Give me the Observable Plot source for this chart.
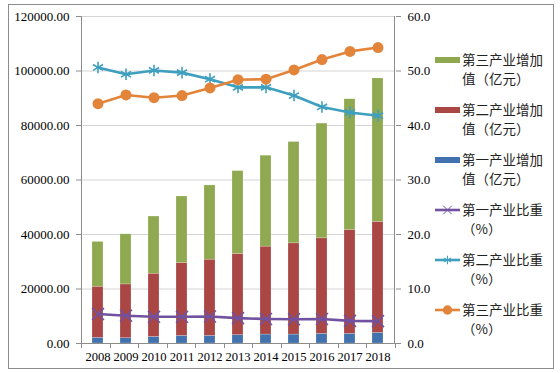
<!DOCTYPE html>
<html><head><meta charset="utf-8">
<script src="https://cdn.jsdelivr.net/npm/d3@7"></script>
<script src="https://cdn.jsdelivr.net/npm/@observablehq/plot@0.6"></script>
<style>
body{margin:0;background:#fff}
#wrap{position:relative;width:560px;height:373px;overflow:hidden}
#wrap svg{position:absolute;left:0;top:0}
#frame{position:absolute;left:8px;top:4px;width:546px;height:365px;border:1px solid #8c8c8c;box-sizing:border-box;pointer-events:none}
</style></head><body><div id="wrap"><div id="frame"></div></div>
<script>
const years = ["2008","2009","2010","2011","2012","2013","2014","2015","2016","2017","2018"];
const primaryValue   = [2060, 1950, 2430, 2800, 2800, 3050, 3280, 3280, 3530, 3530, 3900];
const secondaryValue = [18770, 19730, 23180, 26750, 27960, 29810, 32270, 33480, 35070, 38160, 40740];
const tertiaryValue  = [16450, 18390, 20980, 24400, 27240, 30400, 33370, 37170, 42100, 47950, 52620];
const primaryShare   = [5.4, 5.1, 4.9, 4.9, 4.95, 4.65, 4.5, 4.45, 4.5, 4.15, 4.1];
const secondaryShare = [50.65, 49.4, 50.1, 49.7, 48.5, 47.0, 47.0, 45.5, 43.4, 42.4, 41.8];
const tertiaryShare  = [44.0, 45.6, 45.1, 45.5, 46.9, 48.4, 48.5, 50.2, 52.1, 53.6, 54.3];
const leftTicks  = [0, 20000, 40000, 60000, 80000, 100000, 120000];
const rightTicks = [0, 10, 20, 30, 40, 50, 60];

const barSeries = ["第一产业增加值（亿元）", "第二产业增加值（亿元）", "第三产业增加值（亿元）"];
const barColors = ["#4272ad", "#aa4644", "#8ea94f"];
const lineSeries = ["第一产业比重（%）", "第二产业比重（%）", "第三产业比重（%）"];
const lineColors = ["#7152a0", "#3f9fbf", "#e3843b"];
const lineSymbols = ["times", "asterisk", "circle"];

const k = leftTicks[leftTicks.length - 1] / rightTicks[rightTicks.length - 1];

const bars = [];
[primaryValue, secondaryValue, tertiaryValue].forEach((arr, s) =>
  arr.forEach((v, i) => bars.push({year: years[i], series: barSeries[s], value: v})));
const shares = [primaryShare, secondaryShare, tertiaryShare];

const lineMarks = [];
shares.forEach((arr, s) => {
  const data = arr.map((v, i) => ({year: years[i], share: v}));
  lineMarks.push(Plot.line(data, {x: "year", y: d => d.share * k, stroke: lineColors[s], strokeWidth: 2.6}));
  lineMarks.push(Plot.dot(data, {x: "year", y: d => d.share * k, symbol: () => lineSymbols[s],
    r: 5.5,
    fill: s === 2 ? lineColors[s] : "none",
    stroke: lineColors[s], strokeWidth: s === 2 ? 0 : 1.6}));
});

const chart = Plot.plot({
  width: 560, height: 373,
  marginLeft: 81, marginRight: 165, marginTop: 16, marginBottom: 30,
  style: {background: "transparent", fontFamily: "'Liberation Serif', 'Times New Roman', serif", fontSize: "13px", color: "#000"},
  x: {type: "band", domain: years, paddingInner: 0.6, paddingOuter: 0.3, axis: null, label: null},
  y: {domain: [0, 120000], axis: null, label: null},
  color: {domain: barSeries, range: barColors},
  symbol: {type: "identity"},
  marks: [
    Plot.gridY(leftTicks, {stroke: "#d4d4d4", strokeOpacity: 1}),
    Plot.barY(bars, {x: "year", y: "value", fill: "series", stroke: "#ffffff", strokeOpacity: 0.35, strokeWidth: 0.6}),
    Plot.ruleY([0], {stroke: "#8c8c8c"}),
    Plot.axisY(leftTicks, {anchor: "left", label: null, tickFormat: d => d.toFixed(2), tickSize: 5, tickPadding: 7, stroke: "#8c8c8c", fill: "#000", fontSize: 13}),
    Plot.axisY(leftTicks, {anchor: "right", label: null, tickFormat: d => (d / k).toFixed(1), tickSize: 5, tickPadding: 7, stroke: "#8c8c8c", fill: "#000", fontSize: 13}),
    Plot.axisX(years, {anchor: "bottom", label: null, tickSize: 0, tickPadding: 9, fill: "#000", fontSize: 12.6}),
    ...lineMarks
  ]
});

const wrap = document.getElementById("wrap");
wrap.insertBefore(chart, wrap.firstChild);

// axis lines and category boundary ticks from the x scale
const xs = chart.scale("x");
const ys = chart.scale("y");
const [x0, x1] = xs.range;
const yBottom = ys.apply(0), yTop = ys.apply(120000);
const svg = d3.select(chart);
const g = svg.append("g").attr("stroke", "#8c8c8c").attr("stroke-width", 1);
g.append("line").attr("x1", x0 + 0.5).attr("x2", x0 + 0.5).attr("y1", yTop).attr("y2", yBottom);
g.append("line").attr("x1", x1 - 0.5).attr("x2", x1 - 0.5).attr("y1", yTop).attr("y2", yBottom);
const step = (x1 - x0) / years.length;
for (let i = 0; i <= years.length; i++) {
  const xp = Math.round(x0 + i * step) + 0.5;
  g.append("line").attr("x1", xp).attr("x2", xp).attr("y1", yBottom).attr("y2", yBottom + 5);
}

// legend
const leg = d3.select(wrap).append("svg")
  .attr("width", 560).attr("height", 373)
  .style("font-family", "'Noto Sans CJK SC', sans-serif").style("font-size", "13.5px");
const items = [
  {type: "bar", color: barColors[2], l1: "第三产业增加", l2: "值（亿元）"},
  {type: "bar", color: barColors[1], l1: "第二产业增加", l2: "值（亿元）"},
  {type: "bar", color: barColors[0], l1: "第一产业增加", l2: "值（亿元）"},
  {type: "line", color: lineColors[0], sym: d3.symbolTimes, l1: "第一产业比重", l2: "（%）"},
  {type: "line", color: lineColors[1], sym: d3.symbolAsterisk, l1: "第二产业比重", l2: "（%）"},
  {type: "line", color: lineColors[2], sym: d3.symbolCircle, l1: "第三产业比重", l2: "（%）"}
];
items.forEach((it, i) => {
  const y = 60 + i * 50;
  if (it.type === "bar") {
    leg.append("rect").attr("x", 435).attr("y", y - 3).attr("width", 25).attr("height", 6).attr("fill", it.color);
  } else {
    leg.append("line").attr("x1", 435).attr("x2", 460).attr("y1", y).attr("y2", y).attr("stroke", it.color).attr("stroke-width", 2.6);
    const circ = it.sym === d3.symbolCircle;
    leg.append("path").attr("d", d3.symbol(it.sym, circ ? 70 : 50)())
      .attr("transform", `translate(447.5,${y})`)
      .attr("fill", circ ? it.color : "none").attr("stroke", circ ? "none" : it.color).attr("stroke-width", 1);
  }
  leg.append("text").attr("x", 462).attr("y", y).attr("dy", "0.36em").attr("fill", "#222").text(it.l1);
  leg.append("text").attr("x", 462).attr("y", y + 19).attr("dy", "0.36em").attr("fill", "#222").text(it.l2);
});
</script>
</body></html>
